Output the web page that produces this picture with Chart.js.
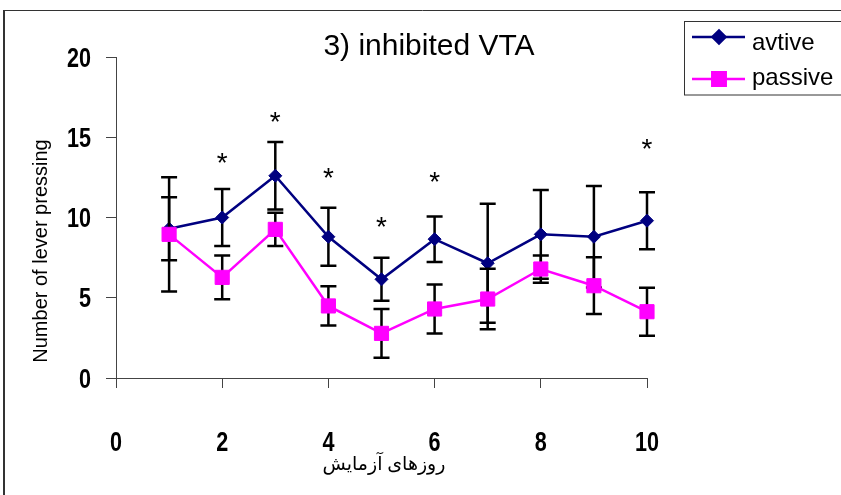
<!DOCTYPE html>
<html>
<head>
<meta charset="utf-8">
<script src="https://cdn.jsdelivr.net/npm/chart.js@4"></script>
<style>
  html, body { margin: 0; padding: 0; background: #fff; }
</style>
</head>
<body>
<canvas id="myChart" width="841" height="495"></canvas>
<script>
// data (days of testing)
var days = [1, 2, 3, 4, 5, 6, 7, 8, 9, 10];
var activeMean = [9.3, 10.0, 12.6, 8.8, 6.15, 8.65, 7.15, 8.95, 8.8, 9.8];
var activeErr = [1.96, 1.78, 2.1, 1.81, 1.34, 1.42, 3.7, 2.76, 3.16, 1.78];
var passiveMean = [8.95, 6.27, 9.26, 4.49, 2.78, 4.3, 4.92, 6.79, 5.75, 4.13];
var passiveErr = [3.56, 1.37, 1.04, 1.22, 1.52, 1.52, 1.89, 0.85, 1.77, 1.5];
var starDays = [2, 3, 4, 5, 6, 10];
var starLevels = [13.7, 16.25, 12.75, 9.75, 12.55, 14.6];
var seriesNames = ['avtive', 'passive'];

var tickFont = 'bold 27px "Liberation Sans", Arial, sans-serif';
var narrow = 0.8; // no narrow font installed, squeeze the bold one

function toPoints(ys) {
    return days.map(function(d, i) { return { x: d, y: ys[i] }; });
}

// error bars, drawn just under their own series
var errorBars = {
    id: 'errorBars',
    beforeDatasetDraw: function(chart, args) {
        var ds = chart.data.datasets[args.index];
        if (!ds.errors) return;
        var xs = chart.scales.x, ys = chart.scales.y, ctx = chart.ctx;
        ctx.save();
        ctx.strokeStyle = '#000';
        ctx.lineWidth = 2.5;
        ds.data.forEach(function(p, i) {
            var px = xs.getPixelForValue(p.x);
            var top = ys.getPixelForValue(p.y + ds.errors[i]);
            var bot = ys.getPixelForValue(p.y - ds.errors[i]);
            ctx.beginPath();
            ctx.moveTo(px, top); ctx.lineTo(px, bot);
            ctx.moveTo(px - 8, top); ctx.lineTo(px + 8, top);
            ctx.moveTo(px - 8, bot); ctx.lineTo(px + 8, bot);
            ctx.stroke();
        });
        ctx.restore();
    }
};

function narrowText(ctx, text, x, y, align) {
    ctx.save();
    ctx.translate(x, y);
    ctx.scale(narrow, 1);
    ctx.textAlign = align;
    ctx.fillText(text, 0, 0);
    ctx.restore();
}

// frame, tick labels, titles, legend box and the asterisks
var decorations = {
    id: 'decorations',
    beforeDraw: function(chart) {
        var ctx = chart.ctx;
        ctx.save();
        ctx.strokeStyle = '#333';
        ctx.lineWidth = 2;
        ctx.beginPath();
        ctx.moveTo(4, 10); ctx.lineTo(4, 495);
        ctx.stroke();
        ctx.lineWidth = 1;
        ctx.beginPath();
        ctx.moveTo(4, 10.5); ctx.lineTo(841, 10.5);
        ctx.stroke();
        ctx.restore();
    },
    afterDraw: function(chart) {
        var ctx = chart.ctx;
        var xs = chart.scales.x, ys = chart.scales.y;
        ctx.save();
        ctx.fillStyle = '#000';
        ctx.textBaseline = 'alphabetic';

        // tick labels
        ctx.font = tickFont;
        var dm = ctx.measureText('0123456789');
        var dshift = (dm.actualBoundingBoxAscent - dm.actualBoundingBoxDescent) / 2;
        ys.ticks.forEach(function(t) {
            narrowText(ctx, String(t.value), 91, ys.getPixelForValue(t.value) + dshift, 'right');
        });
        xs.ticks.forEach(function(t) {
            narrowText(ctx, String(t.value), xs.getPixelForValue(t.value), 441 + dshift, 'center');
        });

        // title
        ctx.textAlign = 'center';
        ctx.font = '30px "Liberation Sans", Arial, sans-serif';
        ctx.fillText('3) inhibited VTA', 429, 55);

        // y axis title
        ctx.save();
        ctx.translate(47, 251);
        ctx.rotate(-Math.PI / 2);
        ctx.font = '20px "Liberation Sans", Arial, sans-serif';
        ctx.fillText('Number of lever pressing', 0, 0);
        ctx.restore();

        // x axis title (Persian)
        ctx.font = '19px "Liberation Serif", "DejaVu Sans", serif';
        ctx.direction = 'rtl';
        ctx.fillText('روزهای آزمایش', 384, 470);
        ctx.direction = 'ltr';

        // asterisks
        ctx.font = '28px "Liberation Sans", Arial, sans-serif';
        var m = ctx.measureText('*');
        var shift = (m.actualBoundingBoxAscent - m.actualBoundingBoxDescent) / 2;
        starDays.forEach(function(d, i) {
            ctx.fillText('*', xs.getPixelForValue(d), ys.getPixelForValue(starLevels[i]) + shift);
        });

        // legend
        ctx.fillStyle = '#fff';
        ctx.fillRect(684, 21, 200, 74);
        ctx.strokeStyle = '#333';
        ctx.lineWidth = 1;
        ctx.strokeRect(684.5, 21.5, 200, 73.5);
        var rows = [
            { y: 37, base: 49.5, ds: chart.data.datasets[0] },
            { y: 79, base: 85, ds: chart.data.datasets[1] }
        ];
        rows.forEach(function(r) {
            ctx.strokeStyle = r.ds.borderColor;
            ctx.lineWidth = 2.5;
            ctx.beginPath();
            ctx.moveTo(692, r.y); ctx.lineTo(745, r.y);
            ctx.stroke();
            ctx.fillStyle = r.ds.pointBackgroundColor;
            ctx.strokeStyle = r.ds.pointBorderColor;
            Chart.helpers.drawPoint(ctx, {
                pointStyle: r.ds.pointStyle,
                radius: r.ds.pointStyle === 'rect' ? 9.5 : 6.5,
                borderWidth: 1,
                rotation: 0
            }, 719, r.y);
            ctx.fillStyle = '#000';
            ctx.font = '24px "Liberation Sans", Arial, sans-serif';
            ctx.textAlign = 'left';
            ctx.fillText(r.ds.label, 752, r.base);
        });
        ctx.restore();
    }
};

var ctx = document.getElementById('myChart').getContext('2d');

var myChart = new Chart(ctx, {
    type: 'line',
    data: {
        datasets: [{
            label: seriesNames[0],
            data: toPoints(activeMean),
            errors: activeErr,
            order: 1,
            clip: false,
            borderColor: '#000080',
            borderWidth: 2.5,
            pointStyle: 'rectRot',
            pointRadius: 6.5,
            pointBorderWidth: 1,
            pointBackgroundColor: '#000080',
            pointBorderColor: '#000080'
        }, {
            label: seriesNames[1],
            data: toPoints(passiveMean),
            errors: passiveErr,
            order: 0,
            clip: false,
            borderColor: '#ff00ff',
            borderWidth: 2.5,
            pointStyle: 'rect',
            pointRadius: 10,
            pointBorderWidth: 1,
            pointBackgroundColor: '#ff00ff',
            pointBorderColor: '#ff00ff'
        }]
    },
    options: {
        responsive: false,
        animation: false,
        layout: {
            padding: { left: 4, top: 57, right: 194, bottom: 0 }
        },
        plugins: {
            legend: { display: false },
            tooltip: { enabled: false }
        },
        elements: {
            line: { tension: 0 }
        },
        scales: {
            x: {
                type: 'linear',
                min: 0,
                max: 10,
                afterFit: function(scale) { scale.height = 117; },
                border: { display: true, color: '#444', width: 1 },
                grid: { drawOnChartArea: false, tickLength: 10, color: '#444' },
                ticks: { stepSize: 2, display: false }
            },
            y: {
                min: 0,
                max: 20,
                afterFit: function(scale) { scale.width = 112; },
                border: { display: true, color: '#444', width: 1 },
                grid: { drawOnChartArea: false, tickLength: 10, color: '#444' },
                ticks: { stepSize: 5, display: false }
            }
        }
    },
    plugins: [errorBars, decorations]
});
</script>
</body>
</html>
